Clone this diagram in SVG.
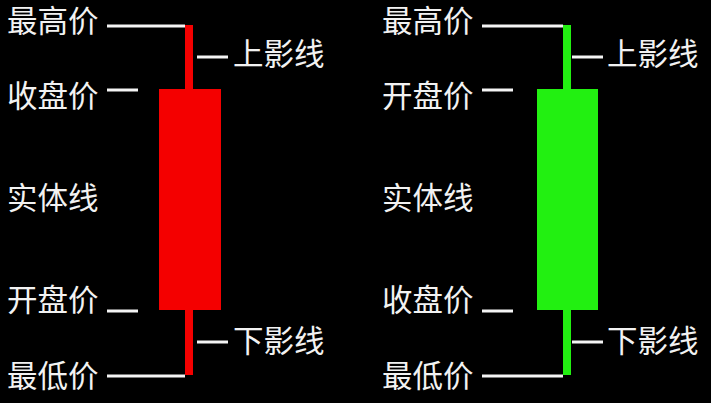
<svg xmlns="http://www.w3.org/2000/svg" width="711" height="403" viewBox="0 0 711 403">
<style>
text{font-family:"Noto Sans CJK SC","Noto Sans",sans-serif;font-size:30.5px;fill:#f2f2f2}
.ln{stroke:#f4f4f4;stroke-width:3;fill:none}
.red{fill:#f40000}
.grn{fill:#22f011}
</style>
<rect width="711" height="403" fill="#000"/>
<g id="red-candle">
<rect class="red" x="185" y="25" width="8" height="350"/>
<rect class="red" x="159" y="89" width="62" height="221"/>
</g>
<g id="green-candle">
<rect class="grn" x="563" y="25" width="8" height="350"/>
<rect class="grn" x="537" y="89" width="61" height="221"/>
</g>
<g id="connectors">
<line class="ln" x1="107" y1="26" x2="185" y2="26"/>
<line class="ln" x1="197" y1="57" x2="228" y2="57"/>
<line class="ln" x1="107" y1="90" x2="138" y2="90"/>
<line class="ln" x1="107" y1="311" x2="138" y2="311"/>
<line class="ln" x1="197" y1="342" x2="228" y2="342"/>
<line class="ln" x1="107" y1="376" x2="185" y2="376"/>
<line class="ln" x1="482" y1="26" x2="563" y2="26"/>
<line class="ln" x1="572" y1="57" x2="603" y2="57"/>
<line class="ln" x1="482" y1="90" x2="513" y2="90"/>
<line class="ln" x1="482" y1="311" x2="513" y2="311"/>
<line class="ln" x1="572" y1="342" x2="603" y2="342"/>
<line class="ln" x1="482" y1="376" x2="563" y2="376"/>
</g>
<g id="left-labels">
<text x="7" y="32">最高价</text>
<text x="233" y="65">上影线</text>
<text x="7" y="107">收盘价</text>
<text x="7" y="209">实体线</text>
<text x="7" y="311">开盘价</text>
<text x="233" y="352">下影线</text>
<text x="7" y="387">最低价</text>
</g>
<g id="right-labels">
<text x="382" y="32">最高价</text>
<text x="607" y="65">上影线</text>
<text x="382" y="107">开盘价</text>
<text x="382" y="209">实体线</text>
<text x="382" y="311">收盘价</text>
<text x="607" y="352">下影线</text>
<text x="382" y="387">最低价</text>
</g>
</svg>
